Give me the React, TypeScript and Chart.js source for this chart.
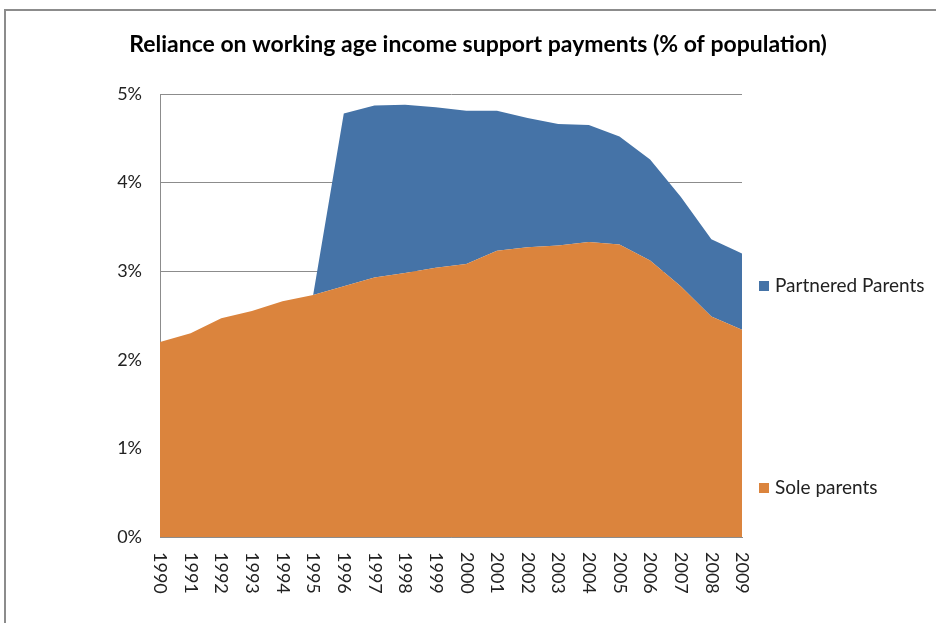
import React, { useEffect, useRef } from 'react';
import Chart from 'chart.js/auto';

const years = ['1990', '1991', '1992', '1993', '1994', '1995', '1996', '1997', '1998', '1999',
  '2000', '2001', '2002', '2003', '2004', '2005', '2006', '2007', '2008', '2009'];
const soleParents = [2.20, 2.30, 2.47, 2.55, 2.66, 2.73, 2.83, 2.93, 2.98, 3.04,
  3.08, 3.23, 3.27, 3.29, 3.33, 3.30, 3.12, 2.83, 2.49, 2.34];
const partneredParents = [0, 0, 0, 0, 0, 0, 1.95, 1.94, 1.90, 1.81,
  1.73, 1.58, 1.46, 1.37, 1.32, 1.22, 1.14, 1.01, 0.87, 0.86];
const yTicks = [0, 1, 2, 3, 4, 5];

const TITLE = 'Reliance on working age income support payments (% of population)';
const FONT = 'Lato, "Open Sans", sans-serif';

// title, rotated year labels and the side legend, drawn like the Excel original
const excelBits = {
  id: 'excelBits',
  afterDraw(chart: any) {
    const ctx = chart.ctx;
    const x = chart.scales.x;
    const area = chart.chartArea;
    ctx.save();
    ctx.fillStyle = '#000';
    ctx.font = `bold 23px ${FONT}`;
    ctx.textAlign = 'center';
    ctx.textBaseline = 'middle';
    ctx.fillText(TITLE, 478, 45);

    ctx.fillStyle = '#222';
    ctx.font = `18px ${FONT}`;
    ctx.textAlign = 'left';
    years.forEach((y, i) => {
      ctx.save();
      ctx.translate(x.getPixelForValue(i), area.bottom + 15);
      ctx.rotate(Math.PI / 2);
      ctx.fillText(y, 0, 0);
      ctx.restore();
    });

    const ds = chart.data.datasets;
    const items = [
      { label: ds[1].label, color: ds[1].backgroundColor, y: 286 },
      { label: ds[0].label, color: ds[0].backgroundColor, y: 488 },
    ];
    ctx.font = `19px ${FONT}`;
    items.forEach((it) => {
      ctx.fillStyle = it.color;
      ctx.fillRect(759, it.y - 5, 10, 10);
      ctx.fillStyle = '#222';
      ctx.fillText(it.label, 775, it.y);
    });
    ctx.restore();
  },
};

export default function App() {
  const canvasRef = useRef<HTMLCanvasElement>(null);

  useEffect(() => {
    document.body.style.margin = '0';
    const ctx = canvasRef.current?.getContext('2d');
    let chart: Chart | undefined;
    if (ctx) {
      chart = new Chart(ctx, {
        type: 'line',
        data: {
          labels: years,
          datasets: [
            {
              label: 'Sole parents',
              data: soleParents,
              backgroundColor: '#db843d',
              borderWidth: 0,
              pointRadius: 0,
              fill: 'origin',
            },
            {
              label: 'Partnered Parents',
              data: partneredParents,
              backgroundColor: '#4573a7',
              borderWidth: 0,
              pointRadius: 0,
              fill: '-1',
            },
          ],
        },
        options: {
          animation: false,
          responsive: true,
          maintainAspectRatio: false,
          layout: { padding: { left: 0, top: 94, right: 194, bottom: 0 } },
          plugins: {
            legend: { display: false },
            title: { display: false },
            tooltip: { enabled: false },
          },
          scales: {
            x: {
              offset: false,
              grid: { display: false },
              border: { display: true, color: '#8c8c8c', width: 1 },
              ticks: { display: false },
              afterFit: (s: any) => { s.height = 86; },
            },
            y: {
              stacked: true,
              min: 0,
              max: 5,
              afterBuildTicks: (s: any) => { s.ticks = yTicks.map((v) => ({ value: v })); },
              grid: { color: '#8c8c8c', drawTicks: false },
              border: { display: true, color: '#8c8c8c', width: 1 },
              ticks: {
                padding: 18,
                color: '#222',
                font: { family: FONT, size: 18 },
                callback: (v: any) => v + '%',
              },
              afterFit: (s: any) => { s.width = 160; },
            },
          },
        },
        plugins: [excelBits],
      });
    }
    return () => {
      chart?.destroy();
    };
  }, []);

  return (
    <div style={{ position: 'relative', width: 936, height: 623, overflow: 'hidden', background: '#fff' }}>
      <div style={{ position: 'absolute', left: 4, top: 9, width: 1000, height: 700, border: '2px solid #8c8c8c' }} />
      <div style={{ position: 'absolute', left: 0, top: 0, width: 936, height: 623 }}>
        <canvas ref={canvasRef}></canvas>
      </div>
    </div>
  );
}
